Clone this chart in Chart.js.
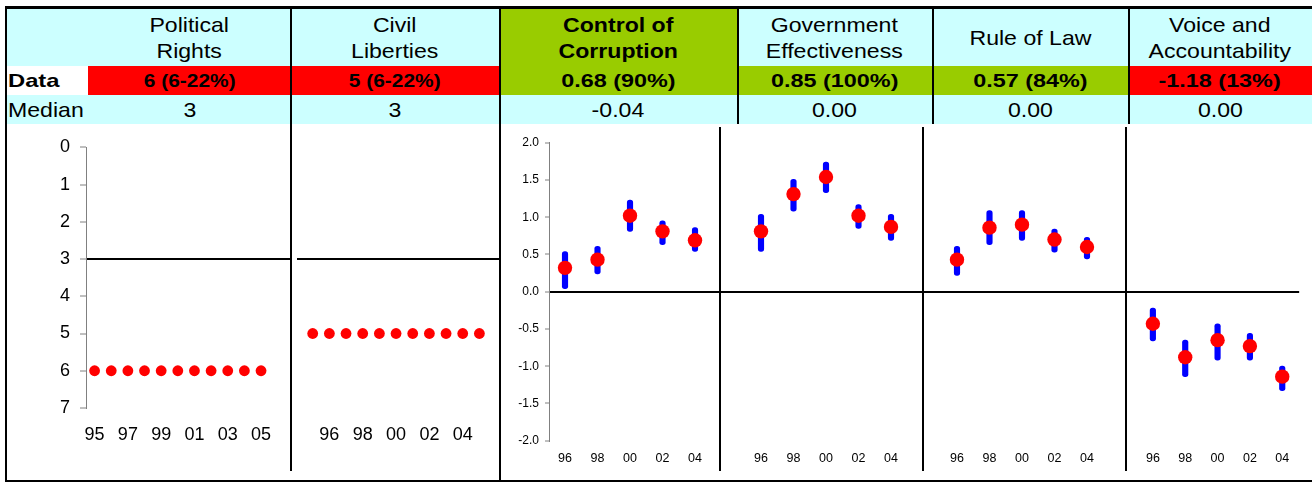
<!DOCTYPE html>
<html>
<head>
<meta charset="utf-8">
<script src="https://cdn.jsdelivr.net/npm/chart.js@4.4.1/dist/chart.umd.min.js"></script>
<style>
body { margin: 0; width: 1312px; height: 483px; position: relative; overflow: hidden; background: #fff;
       font-family: "Liberation Sans", Arial, sans-serif; color: #000; }
.cell { position: absolute; display: flex; align-items: center; justify-content: center; text-align: center;
        font-size: 21px; line-height: 26px; }
.cell.left { justify-content: flex-start; padding-left: 2px; box-sizing: border-box; }
.t { display: inline-block; transform: scaleX(1.1); }
.left .t { transform-origin: left center; }
.b { font-weight: bold; font-size: 19px; }
.w { transform: scaleX(1.23); }
.cyan { background: #ccffff; }
.green { background: #99cc00; }
.red { background: #ff0000; }
.white { background: #fff; }
.sep { position: absolute; background: #000; z-index: 5; }
canvas { position: absolute; }
</style>
</head>
<body>

<!-- header row 1 -->
<div class="cell cyan"  style="left:6px;top:9px;width:82px;height:57px"></div>
<div class="cell cyan"  style="left:88px;top:9px;width:203px;height:57px"><span class="t">Political<br>Rights</span></div>
<div class="cell cyan"  style="left:291px;top:9px;width:208px;height:57px"><span class="t">Civil<br>Liberties</span></div>
<div class="cell green" style="left:499px;top:9px;width:238px;height:57px;font-weight:bold"><span class="t">Control of<br>Corruption</span></div>
<div class="cell cyan"  style="left:737px;top:9px;width:195px;height:57px"><span class="t">Government<br>Effectiveness</span></div>
<div class="cell cyan"  style="left:932px;top:9px;width:196px;height:57px"><span class="t">Rule of Law</span></div>
<div class="cell cyan"  style="left:1128px;top:9px;width:184px;height:57px"><span class="t">Voice and<br>Accountability</span></div>

<!-- header row 2 -->
<div class="cell white left b" style="left:6px;top:66px;width:82px;height:29px"><span class="t" style="transform:scaleX(1.25)">Data</span></div>
<div class="cell red b"   style="left:88px;top:66px;width:203px;height:29px"><span class="t">6 (6-22%)</span></div>
<div class="cell red b"   style="left:291px;top:66px;width:208px;height:29px"><span class="t">5 (6-22%)</span></div>
<div class="cell green b" style="left:499px;top:66px;width:238px;height:29px"><span class="t w">0.68 (90%)</span></div>
<div class="cell green b" style="left:737px;top:66px;width:195px;height:29px"><span class="t w">0.85 (100%)</span></div>
<div class="cell green b" style="left:932px;top:66px;width:196px;height:29px"><span class="t w">0.57 (84%)</span></div>
<div class="cell red b"   style="left:1128px;top:66px;width:184px;height:29px"><span class="t w">-1.18 (13%)</span></div>

<!-- header row 3 -->
<div class="cell cyan left" style="left:6px;top:95px;width:82px;height:29px"><span class="t">Median</span></div>
<div class="cell cyan" style="left:88px;top:95px;width:203px;height:29px"><span class="t">3</span></div>
<div class="cell cyan" style="left:291px;top:95px;width:208px;height:29px"><span class="t">3</span></div>
<div class="cell cyan" style="left:499px;top:95px;width:238px;height:29px"><span class="t">-0.04</span></div>
<div class="cell cyan" style="left:737px;top:95px;width:195px;height:29px"><span class="t">0.00</span></div>
<div class="cell cyan" style="left:932px;top:95px;width:196px;height:29px"><span class="t">0.00</span></div>
<div class="cell cyan" style="left:1128px;top:95px;width:184px;height:29px"><span class="t">0.00</span></div>

<canvas id="prChart"  width="286" height="357" style="left:6px;top:124px"></canvas>
<canvas id="clChart"  width="208" height="357" style="left:292px;top:124px"></canvas>
<canvas id="cocChart" width="220" height="357" style="left:500px;top:124px"></canvas>
<canvas id="geChart"  width="203" height="357" style="left:720px;top:124px"></canvas>
<canvas id="rolChart" width="203" height="357" style="left:923px;top:124px"></canvas>
<canvas id="vaChart"  width="174" height="357" style="left:1126px;top:124px"></canvas>

<!-- frame and separators -->
<div class="sep" style="left:5px;top:6px;width:1307px;height:3px"></div>
<div class="sep" style="left:5px;top:6px;width:2px;height:476px"></div>
<div class="sep" style="left:5px;top:480px;width:1307px;height:2px"></div>
<div class="sep" style="left:290px;top:6px;width:2px;height:465px"></div>
<div class="sep" style="left:499px;top:6px;width:2px;height:476px"></div>
<div class="sep" style="left:737px;top:6px;width:2px;height:118px"></div>
<div class="sep" style="left:932px;top:6px;width:2px;height:118px"></div>
<div class="sep" style="left:1128px;top:6px;width:2px;height:118px"></div>
<div class="sep" style="left:719px;top:127px;width:2px;height:344px"></div>
<div class="sep" style="left:922px;top:127px;width:2px;height:344px"></div>
<div class="sep" style="left:1125px;top:127px;width:2px;height:344px"></div>

<script>
// Freedom House ratings, yearly 1995-2005
const fhYears = [1995, 1996, 1997, 1998, 1999, 2000, 2001, 2002, 2003, 2004, 2005];
const prValues = [6, 6, 6, 6, 6, 6, 6, 6, 6, 6, 6];
const clValues = [5, 5, 5, 5, 5, 5, 5, 5, 5, 5, 5];
const prTickYears = [1995, 1997, 1999, 2001, 2003, 2005];
const prTickLabels = ['95', '97', '99', '01', '03', '05'];
const clTickYears = [1996, 1998, 2000, 2002, 2004];
const clTickLabels = ['96', '98', '00', '02', '04'];
const fhMedian = 3;

// Governance indicators, every two years, with error margins
const wgiYears = [1996, 1998, 2000, 2002, 2004];
const wgiTickLabels = ['96', '98', '00', '02', '04'];
const cocValues = [0.32, 0.43, 1.02, 0.81, 0.69];
const cocLow    = [0.04, 0.24, 0.81, 0.63, 0.54];
const cocHigh   = [0.54, 0.61, 1.23, 0.95, 0.86];
const geValues  = [0.81, 1.31, 1.54, 1.02, 0.87];
const geLow     = [0.54, 1.08, 1.33, 0.85, 0.69];
const geHigh    = [1.04, 1.51, 1.74, 1.17, 1.04];
const rolValues = [0.43, 0.86, 0.90, 0.70, 0.60];
const rolLow    = [0.22, 0.63, 0.69, 0.53, 0.44];
const rolHigh   = [0.61, 1.09, 1.09, 0.84, 0.73];
const vaValues  = [-0.43, -0.88, -0.65, -0.73, -1.14];
const vaLow     = [-0.66, -1.14, -0.92, -0.92, -1.33];
const vaHigh    = [-0.22, -0.65, -0.43, -0.56, -1.00];
const wgiZero = 0;

Chart.defaults.font.family = "'Liberation Sans', Arial, sans-serif";
Chart.defaults.color = '#000';

const GRAY = '#808080';
const NONE = 'rgba(0,0,0,0)';

function onlyAt(target, color) {
    return ctx => (ctx.tick && Math.abs(ctx.tick.value - target) < 1e-9) ? color : NONE;
}

function fhChart(id, values, tickYears, tickLabels, xMin, xMax, showAxis) {
    const yAxis = {
        min: 0, max: 7, reverse: true,
        ticks: { stepSize: 1, display: showAxis, padding: 10, font: { size: 18 } },
        border: { display: showAxis, color: GRAY, width: 1 },
        grid: { color: onlyAt(fhMedian, '#000'), lineWidth: 2, drawTicks: showAxis,
                tickLength: 6, tickColor: GRAY, tickWidth: 1 },
        afterFit: s => { s.width = showAxis ? 80 : 0; }
    };
    return new Chart(document.getElementById(id), {
        type: 'line',
        data: {
            datasets: [{
                data: fhYears.map((x, i) => ({ x: x, y: values[i] })),
                showLine: false,
                pointRadius: 5.4,
                pointBackgroundColor: '#ff0000',
                pointBorderWidth: 0
            }]
        },
        options: {
            responsive: false,
            animation: false,
            layout: { autoPadding: false, padding: { left: showAxis ? 0 : 5, right: showAxis ? 2 : 1, top: 23.3, bottom: 0 } },
            plugins: { legend: { display: false }, tooltip: { enabled: false } },
            scales: {
                x: {
                    type: 'linear', min: xMin, max: xMax,
                    border: { display: false },
                    grid: { display: false, drawTicks: false },
                    ticks: { padding: 16, font: { size: 18 }, callback: (v, i) => tickLabels[i] },
                    afterBuildTicks: s => { s.ticks = tickYears.map(v => ({ value: v })); },
                    afterFit: s => { s.height = 73; }
                },
                y: yAxis
            }
        }
    });
}

function wgiChart(id, values, low, high, xMin, xMax, showAxis) {
    return new Chart(document.getElementById(id), {
        type: 'bar',
        data: {
            datasets: [
                {
                    type: 'line',
                    data: wgiYears.map((x, i) => ({ x: x, y: values[i] })),
                    showLine: false,
                    pointRadius: 7.2,
                    pointBackgroundColor: '#ff0000',
                    pointBorderWidth: 0,
                    order: 0
                },
                {
                    type: 'bar',
                    data: wgiYears.map((x, i) => ({ x: x, y: [low[i], high[i]] })),
                    backgroundColor: '#0000ff',
                    barThickness: 5.5,
                    borderRadius: 3,
                    borderSkipped: false,
                    order: 1
                }
            ]
        },
        options: {
            responsive: false,
            animation: false,
            layout: { autoPadding: false, padding: { left: 0, right: 0, top: 18.7, bottom: 0 } },
            plugins: { legend: { display: false }, tooltip: { enabled: false } },
            scales: {
                x: {
                    type: 'linear', min: xMin, max: xMax, offset: false,
                    border: { display: false },
                    grid: { display: false, drawTicks: false, offset: false },
                    ticks: { padding: 10.8, font: { size: 12.5 }, callback: (v, i) => wgiTickLabels[i] },
                    afterBuildTicks: s => { s.ticks = wgiYears.map(v => ({ value: v })); },
                    afterFit: s => { s.height = 40.3; }
                },
                y: {
                    min: -2, max: 2,
                    ticks: { stepSize: 0.5, display: showAxis, padding: 6, font: { size: 12 },
                             callback: v => v.toFixed(1) },
                    border: { display: showAxis, color: GRAY, width: 1 },
                    grid: { color: onlyAt(wgiZero, '#000'), lineWidth: 2, drawTicks: showAxis,
                            tickLength: 4, tickColor: GRAY, tickWidth: 1 },
                    afterFit: s => { s.width = showAxis ? 49 : 0; }
                }
            }
        }
    });
}

fhChart('prChart', prValues, prTickYears, prTickLabels, 1994.484, 2006.74, true);
fhChart('clChart', clValues, clTickYears, clTickLabels, 1994.058, 2006.176, false);

wgiChart('cocChart', cocValues, cocLow, cocHigh, 1995.015, 2005.538, true);
wgiChart('geChart', geValues, geLow, geHigh, 1993.477, 2005.969, false);
wgiChart('rolChart', rolValues, rolLow, rolHigh, 1993.908, 2006.4, false);
wgiChart('vaChart', vaValues, vaLow, vaHigh, 1994.338, 2005.046, false);
</script>
</body>
</html>
